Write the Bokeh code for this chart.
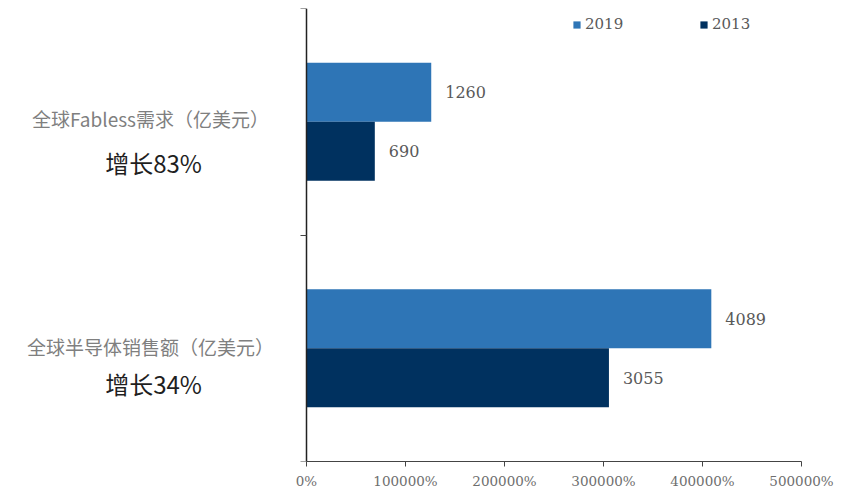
from bokeh.plotting import figure
from bokeh.models import Range1d, FixedTicker, Legend, LegendItem, ColumnDataSource
from bokeh.embed import file_html
from bokeh.resources import INLINE
from bokeh.core.properties import value

# ---- data ----
categories = ["全球Fabless需求（亿美元）", "全球半导体销售额（亿美元）"]
growth = ["增长83%", "增长34%"]
years = ["2019", "2013"]
v2019 = [1260, 4089]
v2013 = [690, 3055]
x_ticks = [0, 1000, 2000, 3000, 4000, 5000]
x_tick_labels = ["0%", "100000%", "200000%", "300000%", "400000%", "500000%"]

# ---- layout / style ----
C2019 = "#2E75B6"
C2013 = "#00315F"
n = len(categories)
cat_y = [n - i - 0.5 for i in range(n)]
dodge = 0.13
bar_h = 0.26
X_MAX = 5000
AXIS_PX = 306          # canvas x of the value axis origin
RIGHT_PAD = 52
px_to_x = X_MAX / (853 - AXIS_PX - RIGHT_PAD)
x_start = -AXIS_PX * px_to_x

p = figure(width=853, height=493, x_range=Range1d(x_start, X_MAX), y_range=Range1d(0, n),
           output_backend="svg", toolbar_location=None,
           min_border_left=0, min_border_right=RIGHT_PAD, min_border_top=8, min_border_bottom=32)
p.background_fill_color = "white"
p.border_fill_color = "white"
p.outline_line_color = None
p.xgrid.visible = False
p.ygrid.visible = False

src19 = ColumnDataSource(dict(y=[c + dodge for c in cat_y], v=v2019, t=[str(v) for v in v2019]))
src13 = ColumnDataSource(dict(y=[c - dodge for c in cat_y], v=v2013, t=[str(v) for v in v2013]))

r19 = p.hbar(y="y", left=0, right="v", height=bar_h, source=src19, fill_color=C2019, line_color=None)
r13 = p.hbar(y="y", left=0, right="v", height=bar_h, source=src13, fill_color=C2013, line_color=None)

for s in (src19, src13):
    p.text(x="v", y="y", text="t", source=s, x_offset=14, text_baseline="middle", text_align="left",
           text_font=value("DejaVu Serif"), text_font_size="16px", text_color="#595959")

# category labels, left of the value axis
lab = ColumnDataSource(dict(x=[-156 * px_to_x] * n, y=cat_y, t1=categories, t2=growth,
                            o1=[-3, -2], o2=[41, 35]))
p.text(x="x", y="y", text="t1", source=lab, y_offset="o1", text_align="center", text_baseline="middle",
       text_font=value("Noto Sans CJK SC"), text_font_size="19px", text_color="#7f7f7f")
p.text(x="x", y="y", text="t2", source=lab, y_offset="o2", x_offset=3, text_align="center",
       text_baseline="middle", text_font=value("Noto Sans CJK SC"), text_font_size="24px",
       text_color="#1f1f1f")

# axes
p.xaxis.ticker = FixedTicker(ticks=x_ticks)
p.xaxis.bounds = (0, X_MAX)
p.xaxis.major_label_overrides = {t: l for t, l in zip(x_ticks, x_tick_labels)}
p.xaxis.minor_tick_line_color = None
p.xaxis.major_tick_out = 5
p.xaxis.major_tick_in = 0
p.xaxis.axis_line_color = "#444444"
p.xaxis.major_tick_line_color = "#444444"
p.xaxis.major_label_text_font = "DejaVu Serif"
p.xaxis.major_label_text_font_size = "13.5px"
p.xaxis.major_label_text_color = "#6e6e6e"
p.xaxis.major_label_standoff = 6

y_ticks = list(range(n + 1))
p.yaxis.fixed_location = 0
p.yaxis.ticker = FixedTicker(ticks=y_ticks)
p.yaxis.major_label_overrides = {t: "" for t in y_ticks}
p.yaxis.minor_tick_line_color = None
p.yaxis.major_tick_out = 6
p.yaxis.major_tick_in = 0
p.yaxis.axis_line_color = "#222222"
p.yaxis.axis_line_width = 1.5
p.yaxis.major_tick_line_color = "#444444"

legend = Legend(items=[LegendItem(label=years[0], renderers=[r19]),
                       LegendItem(label=years[1], renderers=[r13])],
                orientation="horizontal", location=(266 + AXIS_PX, 428))
legend.glyph_width = 9
legend.glyph_height = 9
legend.label_standoff = 4
legend.label_width = 110
legend.spacing = 4
legend.padding = 0
legend.margin = 0
legend.border_line_color = None
legend.background_fill_alpha = 0
legend.label_text_font = "DejaVu Serif"
legend.label_text_font_size = "15px"
legend.label_text_color = "#595959"
p.add_layout(legend)

open("out.html", "w").write(file_html(p, INLINE))
